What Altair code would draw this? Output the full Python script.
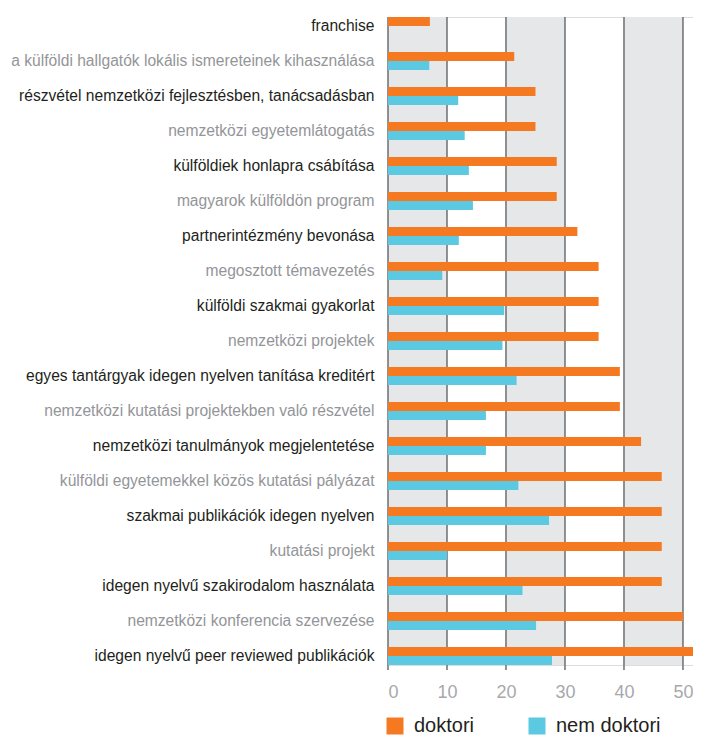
import altair as alt
import pandas as pd

categories = [
    "franchise",
    "a külföldi hallgatók lokális ismereteinek kihasználása",
    "részvétel nemzetközi fejlesztésben, tanácsadásban",
    "nemzetközi egyetemlátogatás",
    "külföldiek honlapra csábítása",
    "magyarok külföldön program",
    "partnerintézmény bevonása",
    "megosztott témavezetés",
    "külföldi szakmai gyakorlat",
    "nemzetközi projektek",
    "egyes tantárgyak idegen nyelven tanítása kreditért",
    "nemzetközi kutatási projektekben való részvétel",
    "nemzetközi tanulmányok megjelentetése",
    "külföldi egyetemekkel közös kutatási pályázat",
    "szakmai publikációk idegen nyelven",
    "kutatási projekt",
    "idegen nyelvű szakirodalom használata",
    "nemzetközi konferencia szervezése",
    "idegen nyelvű peer reviewed publikációk",
]
doktori = [7.1, 21.4, 25.0, 25.0, 28.6, 28.6, 32.1, 35.7, 35.7, 35.7,
           39.3, 39.3, 42.9, 46.4, 46.4, 46.4, 46.4, 50.0, 53.6]
nem_doktori = [None, 7.0, 11.9, 13.0, 13.7, 14.4, 12.0, 9.2, 19.7, 19.4,
               21.8, 16.6, 16.6, 22.1, 27.3, 10.0, 22.8, 25.1, 27.8]
series = ["doktori", "nem doktori"]
colors = ["#F47920", "#5BC9E1"]
tick_values = [0, 10, 20, 30, 40, 50]
band_starts = [0, 20, 40]
band_ends = [10, 30, 50]

rows = []
for c, d, n in zip(categories, doktori, nem_doktori):
    rows.append({"kat": c, "sorozat": series[0], "ertek": d})
    if n is not None:
        rows.append({"kat": c, "sorozat": series[1], "ertek": n})
df = pd.DataFrame(rows)
bands = pd.DataFrame({"x0": band_starts, "x1": band_ends})
grid = pd.DataFrame({"v": tick_values})

W, H = 305, 648
FONT = "Liberation Sans"
xscale = alt.Scale(domain=[0, 51.7], nice=False, zero=False)
xaxis = alt.Axis(
    values=tick_values,
    title=None,
    grid=False,
    ticks=False,
    domain=False,
    labelFont=FONT,
    labelFontSize=18,
    labelColor="#A7A9AC",
    labelPadding=18,
)

gray_labels = categories[1::2]
test = "indexof([" + ",".join("'" + g + "'" for g in gray_labels) + "], datum.value) >= 0"

band_layer = alt.Chart(bands).mark_rect(color="#E6E7E8").encode(
    x=alt.X("x0:Q", scale=xscale, axis=xaxis),
    x2="x1:Q",
    y=alt.value(0),
    y2=alt.value(H),
)

rule_layer = alt.Chart(grid).mark_rule(color="#6D6E71", strokeWidth=1.5).encode(
    x=alt.X("v:Q", scale=xscale, axis=xaxis),
    y=alt.value(0),
    y2=alt.value(H + 5),
)

bar_layer = alt.Chart(df).mark_bar(clip=True).encode(
    x=alt.X("ertek:Q", scale=xscale, axis=xaxis),
    y=alt.Y(
        "kat:N",
        sort=categories,
        scale=alt.Scale(paddingInner=0.485, paddingOuter=0),
        axis=alt.Axis(
            title=None,
            ticks=False,
            domain=False,
            labelFont=FONT,
            labelFontSize=15.6,
            labelPadding=14,
            labelLimit=0,
            labelColor={"condition": {"test": test, "value": "#939598"}, "value": "#231F20"},
        ),
    ),
    yOffset=alt.YOffset("sorozat:N", sort=series, scale=alt.Scale(paddingInner=0, paddingOuter=0)),
    color=alt.Color(
        "sorozat:N",
        scale=alt.Scale(domain=series, range=colors),
        legend=alt.Legend(
            title=None,
            orient="none",
            legendX=-3,
            legendY=699,
            direction="horizontal",
            symbolType="square",
            symbolSize=289,
            symbolStrokeWidth=0,
            symbolOpacity=1,
            labelFont=FONT,
            labelFontSize=20,
            labelColor="#231F20",
            labelOffset=9,
            columnPadding=52,
            padding=0,
        ),
    ),
)

chart = alt.layer(band_layer, rule_layer, bar_layer).properties(
    width=W,
    height=H,
    autosize=alt.AutoSizeParams(type="none"),
    padding={"left": 380, "top": 9, "right": 0, "bottom": 73},
).configure_view(stroke=None).configure(background="white")

chart.save("out.html", embed_options={"renderer": "svg", "actions": False})
